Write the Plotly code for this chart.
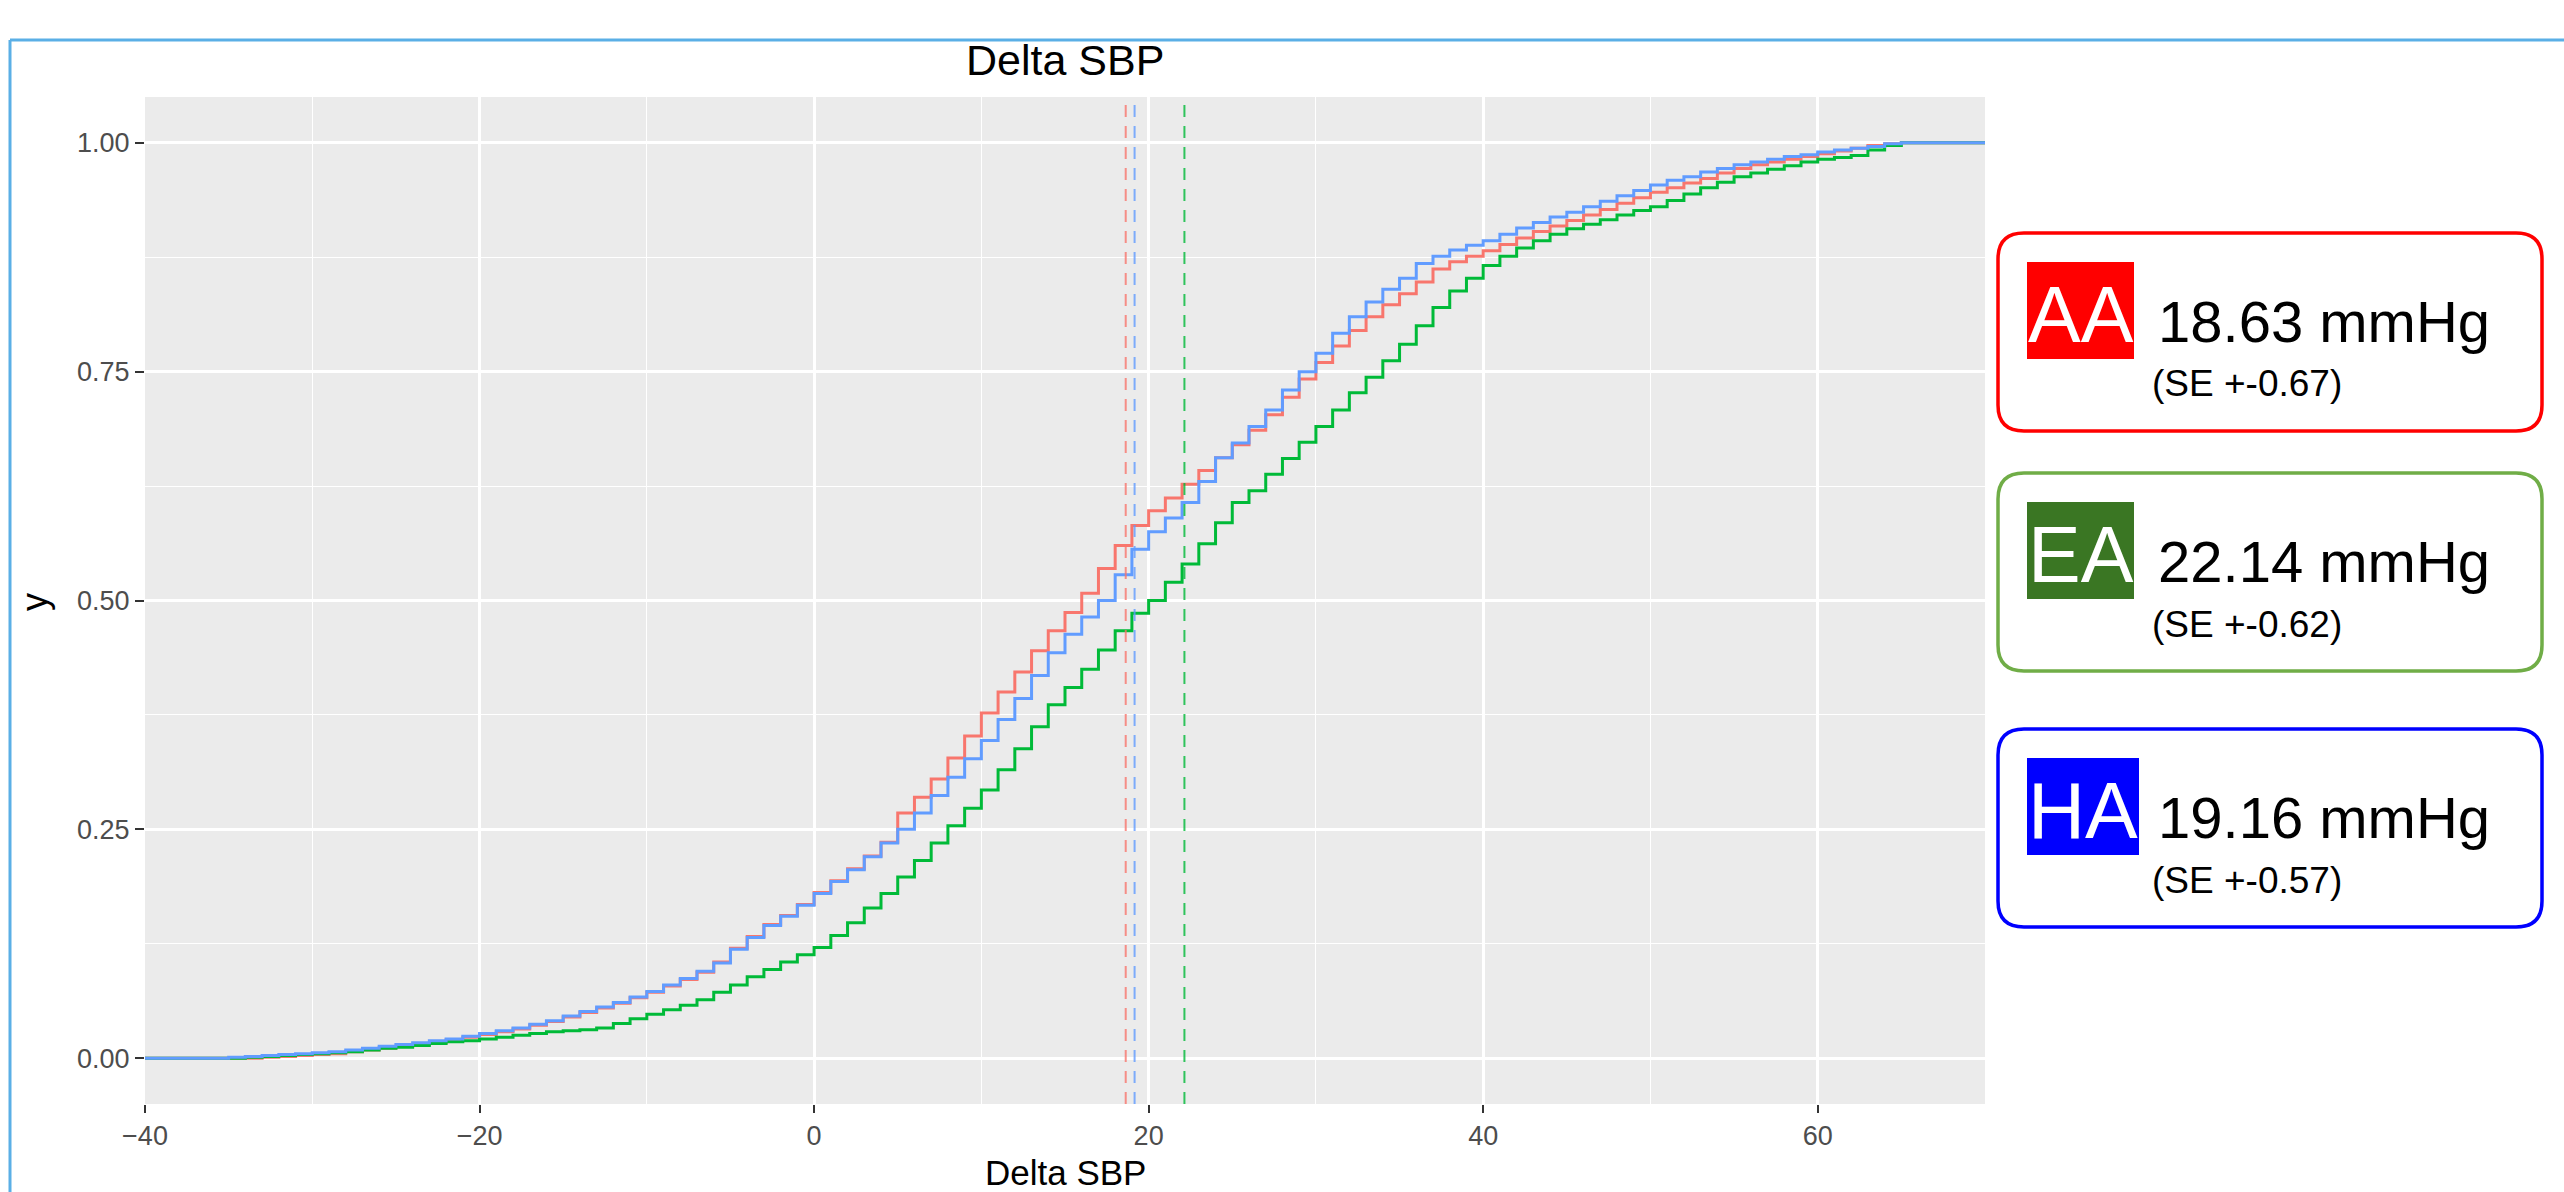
import plotly.graph_objects as go

# ---------------- data ----------------
GROUPS = ["AA", "EA", "HA"]
LINE_COLORS = ["#F8766D", "#00BA38", "#619CFF"]
BOX_COLORS = ["#FF0000", "#70AD47", "#0000FF"]
BADGE_COLORS = ["#FF0000", "#3A7623", "#0000FF"]
MEANS = [18.63, 22.14, 19.16]
SES = [0.67, 0.62, 0.57]

X_GRID = list(range(-40, 71))

ECDF_AA = [0, 0, 0, 0, 0, 0, 0,
           0.001, 0.002, 0.003, 0.004, 0.005, 0.007, 0.009, 0.011, 0.013, 0.015,
           0.017, 0.020, 0.023, 0.026, 0.029, 0.032, 0.036, 0.040, 0.045, 0.050,
           0.055, 0.060, 0.066, 0.072, 0.079, 0.086, 0.094, 0.105, 0.120, 0.133,
           0.146, 0.156, 0.168, 0.181, 0.194, 0.207, 0.221, 0.236, 0.268, 0.285,
           0.305, 0.328, 0.352, 0.377, 0.400, 0.422, 0.445, 0.467, 0.487, 0.508,
           0.535, 0.560, 0.582, 0.598, 0.612, 0.627, 0.642, 0.656, 0.670, 0.686,
           0.703, 0.722, 0.742, 0.760, 0.778, 0.795, 0.810, 0.823, 0.835, 0.848,
           0.862, 0.870, 0.876, 0.882, 0.889, 0.896, 0.903, 0.909, 0.915, 0.921,
           0.927, 0.934, 0.940, 0.946, 0.951, 0.956, 0.961, 0.967, 0.972, 0.976,
           0.979, 0.982, 0.985, 0.988, 0.991, 0.994, 0.997, 0.999, 1, 1,
           1, 1, 1, 1]

ECDF_EA = [0, 0, 0, 0, 0, 0,
           0.001, 0.002, 0.003, 0.004, 0.005, 0.006, 0.007, 0.009, 0.011, 0.012,
           0.014, 0.016, 0.018, 0.019, 0.021, 0.023, 0.025, 0.027, 0.029, 0.030,
           0.031, 0.033, 0.038, 0.043, 0.048, 0.053, 0.058, 0.064, 0.072, 0.080,
           0.089, 0.097, 0.105, 0.113, 0.121, 0.134, 0.148, 0.164, 0.180, 0.198,
           0.216, 0.235, 0.254, 0.273, 0.293, 0.315, 0.338, 0.362, 0.386, 0.405,
           0.425, 0.446, 0.467, 0.486, 0.500, 0.520, 0.540, 0.562, 0.585, 0.607,
           0.620, 0.638, 0.655, 0.673, 0.690, 0.708, 0.727, 0.744, 0.762, 0.780,
           0.800, 0.820, 0.838, 0.852, 0.866, 0.876, 0.885, 0.893, 0.900, 0.906,
           0.911, 0.916, 0.921, 0.926, 0.930, 0.937, 0.944, 0.951, 0.957, 0.963,
           0.967, 0.971, 0.975, 0.979, 0.982, 0.984, 0.986, 0.992, 0.997, 1,
           1, 1, 1, 1, 1]

ECDF_HA = [0, 0, 0, 0, 0,
           0.001, 0.002, 0.003, 0.004, 0.005, 0.006, 0.007, 0.009, 0.011, 0.013,
           0.015, 0.017, 0.019, 0.021, 0.024, 0.027, 0.030, 0.033, 0.037, 0.041,
           0.046, 0.051, 0.056, 0.061, 0.067, 0.073, 0.080, 0.087, 0.095, 0.104,
           0.119, 0.132, 0.145, 0.155, 0.167, 0.180, 0.193, 0.206, 0.220, 0.235,
           0.250, 0.268, 0.287, 0.307, 0.327, 0.347, 0.370, 0.393, 0.418, 0.443,
           0.463, 0.482, 0.500, 0.528, 0.556, 0.575, 0.590, 0.607, 0.630, 0.656,
           0.672, 0.690, 0.708, 0.730, 0.750, 0.770, 0.792, 0.810, 0.826, 0.840,
           0.852, 0.868, 0.876, 0.883, 0.888, 0.893, 0.900, 0.907, 0.913, 0.919,
           0.924, 0.930, 0.936, 0.942, 0.948, 0.954, 0.959, 0.963, 0.968, 0.972,
           0.976, 0.979, 0.982, 0.985, 0.987, 0.990, 0.992, 0.994, 0.996, 0.999,
           1, 1, 1, 1, 1, 1]

SERIES = [ECDF_AA, ECDF_EA, ECDF_HA]

X_TICKS = [-40, -20, 0, 20, 40, 60]
X_MINOR = [-30, -10, 10, 30, 50, 70]
Y_TICKS = [0, 0.25, 0.5, 0.75, 1.0]
Y_TICK_TEXT = ["0.00", "0.25", "0.50", "0.75", "1.00"]
Y_MINOR = [0.125, 0.375, 0.625, 0.875]

TITLE = "Delta SBP"
X_TITLE = "Delta SBP"
Y_TITLE = "y"

# ---------------- layout geometry (pixels) ----------------
W, H = 2564, 1192
PL, PR, PT, PB = 145, 1985, 97, 1104
FONT = "Liberation Sans, Arial, Helvetica, sans-serif"


def px(x):
    return (x - PL) / (PR - PL)


def py(y):
    return (PB - y) / (PB - PT)


def rrect_path(x0, y0, x1, y1, r):
    p = [
        f"M {px(x0 + r)},{py(y0)}",
        f"L {px(x1 - r)},{py(y0)}",
        f"Q {px(x1)},{py(y0)} {px(x1)},{py(y0 + r)}",
        f"L {px(x1)},{py(y1 - r)}",
        f"Q {px(x1)},{py(y1)} {px(x1 - r)},{py(y1)}",
        f"L {px(x0 + r)},{py(y1)}",
        f"Q {px(x0)},{py(y1)} {px(x0)},{py(y1 - r)}",
        f"L {px(x0)},{py(y0 + r)}",
        f"Q {px(x0)},{py(y0)} {px(x0 + r)},{py(y0)}",
        "Z",
    ]
    return " ".join(p)


fig = go.Figure()

for name, ys, col in zip(GROUPS, SERIES, LINE_COLORS):
    fig.add_trace(go.Scatter(x=X_GRID, y=ys, mode="lines", name=name,
                             line=dict(color=col, width=3, shape="hv"),
                             hoverinfo="skip"))

shapes = []
# mean lines
for m, col in zip(MEANS, LINE_COLORS):
    shapes.append(dict(type="line", xref="x", yref="paper", x0=m, x1=m, y0=0, y1=1,
                       line=dict(color=col, width=2, dash="12px,9px"), opacity=0.8,
                       layer="above"))

# outer light-blue frame (top + left)
shapes.append(dict(type="line", xref="paper", yref="paper",
                   x0=px(10), x1=px(W + 5), y0=py(40), y1=py(40),
                   line=dict(color="#5AAFE6", width=3)))
shapes.append(dict(type="line", xref="paper", yref="paper",
                   x0=px(10), x1=px(10), y0=py(40), y1=py(H + 5),
                   line=dict(color="#5AAFE6", width=3)))

annotations = []
BOX_TOPS = [233, 473, 729]
BOX_X0, BOX_X1, BOX_H = 1998, 2542, 198
BADGE_W = [107, 107, 112]
for i, g in enumerate(GROUPS):
    top = BOX_TOPS[i]
    shapes.append(dict(type="path", xref="paper", yref="paper",
                       path=rrect_path(BOX_X0, top, BOX_X1, top + BOX_H, 26),
                       line=dict(color=BOX_COLORS[i], width=3.5),
                       fillcolor="white", layer="above"))
    bx0, by0 = 2027, top + 29
    shapes.append(dict(type="rect", xref="paper", yref="paper",
                       x0=px(bx0), x1=px(bx0 + BADGE_W[i]), y0=py(by0), y1=py(by0 + 97),
                       line=dict(width=0), fillcolor=BADGE_COLORS[i], layer="above"))
    annotations.append(dict(xref="paper", yref="paper", x=px(bx0 + BADGE_W[i] / 2),
                            y=py(by0 + 52), text=g, showarrow=False,
                            xanchor="center", yanchor="middle",
                            font=dict(family=FONT, size=79, color="white")))
    annotations.append(dict(xref="paper", yref="paper", x=px(2156), y=py(top + 106 - 18),
                            text=f"{MEANS[i]:.2f} mmHg", showarrow=False,
                            xanchor="left", yanchor="middle",
                            font=dict(family=FONT, size=58, color="black")))
    annotations.append(dict(xref="paper", yref="paper", x=px(2150), y=py(top + 161 - 10),
                            text=f"(SE +-{SES[i]:.2f})", showarrow=False,
                            xanchor="left", yanchor="middle",
                            font=dict(family=FONT, size=37, color="black")))

# titles
annotations.append(dict(xref="paper", yref="paper", x=0.5, y=py(60), text=TITLE,
                        showarrow=False, xanchor="center", yanchor="middle",
                        font=dict(family=FONT, size=43, color="black")))
annotations.append(dict(xref="paper", yref="paper", x=0.5, y=py(1172), text=X_TITLE,
                        showarrow=False, xanchor="center", yanchor="middle",
                        font=dict(family=FONT, size=35, color="black")))
annotations.append(dict(xref="paper", yref="paper", x=px(34), y=py(602), text=Y_TITLE,
                        showarrow=False, xanchor="center", yanchor="middle", textangle=-90,
                        font=dict(family=FONT, size=36, color="black")))

fig.update_layout(
    width=W, height=H,
    margin=dict(l=PL, r=W - PR, t=PT, b=H - PB, pad=0),
    plot_bgcolor="#EBEBEB", paper_bgcolor="white",
    showlegend=False,
    shapes=shapes, annotations=annotations,
    font=dict(family=FONT),
    xaxis=dict(range=[-40, 70], tickmode="array", tickvals=X_TICKS,
               showgrid=True, gridcolor="white", gridwidth=2.5,
               minor=dict(tickmode="array", tickvals=X_MINOR, showgrid=True,
                          gridcolor="white", gridwidth=1.2, ticks=""),
               ticks="outside", ticklen=8, tickwidth=2, tickcolor="#333333",
               tickfont=dict(family=FONT, size=27, color="#4D4D4D"),
               zeroline=False, showline=False, fixedrange=True),
    yaxis=dict(range=[-0.05, 1.05], tickmode="array", tickvals=Y_TICKS, ticktext=Y_TICK_TEXT,
               showgrid=True, gridcolor="white", gridwidth=2.5,
               minor=dict(tickmode="array", tickvals=Y_MINOR, showgrid=True,
                          gridcolor="white", gridwidth=1.2, ticks=""),
               ticks="outside", ticklen=9, tickwidth=2, tickcolor="#333333",
               tickfont=dict(family=FONT, size=27, color="#4D4D4D"),
               zeroline=False, showline=False, fixedrange=True),
)

fig.write_html("out.html", config={"displayModeBar": False},
               post_script="document.body.style.margin='0';document.body.style.overflow='hidden';")
